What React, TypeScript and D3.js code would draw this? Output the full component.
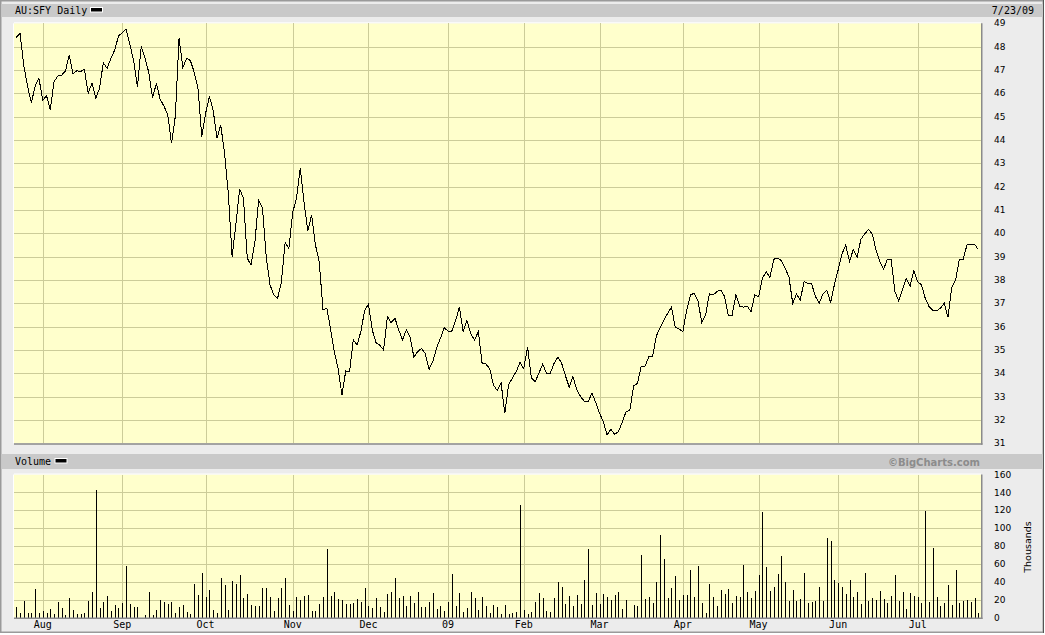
import React from "react";
import * as d3 from "d3";

// ---- DATA ----
const ticker = "AU:SFY Daily";
const chartDate = "7/23/09";

// daily closes, 2008-07-23 .. 2009-07-23 (trading-day order)
const prices: number[] = [
  48.4, 48.57, 47.2, 46.3, 45.6, 46.3, 46.65, 45.7, 45.9, 45.3,
  46.5, 46.74, 46.78, 46.95, 47.64, 46.83, 46.97, 46.93, 47.03, 46.0,
  46.43, 45.79, 46.21, 47.31, 47.07, 47.5, 47.85, 48.45, 48.6, 48.76,
  48.1, 47.4, 46.26, 48.0, 47.5, 46.9, 45.79, 46.43, 45.75, 45.45,
  45.1, 43.86, 45.0, 48.36, 47.1, 47.5, 47.4, 46.9, 46.2, 44.14,
  45.14, 45.86, 45.28, 44.07, 44.64, 43.43, 41.71, 39.0, 40.4, 41.9,
  41.5, 38.93, 38.64, 39.6, 41.4, 41.1, 39.0, 37.8, 37.36, 37.21,
  37.9, 39.6, 39.36, 40.9, 41.5, 42.8, 41.3, 40.1, 40.79, 39.5,
  38.79, 36.71, 36.79, 35.9, 34.9, 34.2, 33.07, 34.1, 34.07, 35.43,
  35.21, 35.8, 36.7, 36.97, 35.86, 35.31, 35.2, 35.0, 36.43, 36.17,
  36.36, 35.85, 35.43, 35.86, 35.54, 34.69, 34.93, 35.07, 34.85, 34.17,
  34.5, 35.1, 35.5, 35.95, 35.81, 35.81, 36.25, 36.83, 35.79, 36.26,
  35.69, 35.43, 35.79, 34.43, 34.4, 34.2, 33.5, 33.26, 33.6, 32.29,
  33.5, 33.8, 34.07, 34.46, 34.2, 35.14, 33.8, 33.64, 34.0, 34.4,
  34.0, 34.0, 34.43, 34.69, 34.43, 33.9, 33.4, 33.86, 33.29, 33.0,
  32.8, 32.79, 33.14, 32.75, 32.29, 31.93, 31.36, 31.6, 31.39, 31.5,
  31.9, 32.36, 32.4, 33.46, 33.57, 34.29, 34.3, 34.7, 34.71, 35.6,
  35.95, 36.29, 36.57, 36.83, 35.97, 35.9, 35.79, 36.7, 37.36, 37.43,
  37.1, 36.17, 36.5, 37.4, 37.36, 37.5, 37.57, 37.3, 36.46, 36.49,
  37.36, 36.88, 36.83, 36.88, 36.64, 37.36, 37.29, 38.07, 38.36, 38.11,
  38.89, 38.93, 38.83, 38.5, 38.14, 37.0, 37.39, 37.14, 37.93, 37.86,
  37.83, 37.29, 37.0, 37.4, 37.57, 37.03, 37.79, 38.43, 39.11, 39.5,
  38.79, 39.31, 38.97, 39.74, 39.97, 40.17, 39.97, 39.29, 38.79, 38.46,
  38.89, 38.86, 37.5, 37.1, 37.6, 38.07, 37.74, 38.4, 37.93, 37.79,
  37.21, 36.86, 36.69, 36.67, 36.79, 37.0, 36.4, 37.69, 38.0, 38.89,
  38.89, 39.5, 39.5, 39.54, 39.3,
];

// daily volume, thousands
const volumes: number[] = [
  12, 4.5, 18.4, 4.5, 4.5, 32, 5.3, 7.5, 4.5, 9.4,
  4, 17.3, 10.5, 3, 21.8, 8.3, 3.4, 4, 4.5, 18.4,
  28.5, 142.4, 10.9, 17.3, 24.4, 7.1, 14.3, 10.9, 16.5, 57.1,
  15, 12, 12, 0, 2.6, 28.5, 2.6, 8.3, 19.5, 17.7,
  15.4, 17.3, 5.3, 12, 13.5, 6.4, 3.8, 37.6, 25.2, 50,
  22.9, 30.8, 8.3, 5.3, 44.7, 36.8, 8.3, 40.9, 37.6, 47,
  22.2, 26.3, 14.3, 13.1, 13.1, 33, 33, 22.9, 7.1, 22.2,
  33.4, 44.7, 14.3, 7.1, 22.9, 19.5, 24, 25.2, 7.1, 7.1,
  15, 22.9, 76.2, 24, 28.5, 20.7, 19.5, 15, 15, 15.8,
  20.3, 16.9, 33, 12.4, 10.5, 21.4, 11.3, 6, 25.9, 28.2,
  44.3, 21.4, 24, 12.8, 23.7, 16.2, 28.2, 11.6, 11.6, 16.9,
  27, 9.4, 12.8, 6.8, 17.3, 48.5, 12.4, 27, 5.6, 10.1,
  28.2, 21.4, 7.9, 22.5, 12.8, 4.9, 13.5, 11.6, 3.8, 13.9,
  3.8, 4.5, 5.6, 126.2, 7.9, 3.4, 5.6, 16.9, 27, 21.4,
  6.8, 5.6, 21.4, 39.4, 33.8, 14.6, 23.7, 12.8, 24.8, 14.6,
  41.7, 76.6, 13.5, 27, 14.6, 25.9, 22.9, 19.2, 24.8, 28.2,
  9, 19.2, 0, 13.5, 12.8, 69.9, 20.3, 22.5, 15.8, 39.4,
  92.4, 65.4, 21.4, 32.7, 46.2, 19.2, 24.8, 24.8, 53, 22.5,
  57.5, 15.8, 5.3, 37.6, 22.5, 12.4, 31.2, 25.9, 32.3, 15.8,
  24.4, 22.5, 59.3, 28.9, 22.2, 30, 47, 118.3, 56, 30,
  33.8, 49.2, 68.4, 39.4, 18.8, 31.2, 18.8, 21, 50.3, 15.8,
  16.9, 18.8, 34.5, 18.8, 89, 85.3, 42.4, 38.3, 33.8, 26.3,
  42.1, 23.3, 28.9, 14.6, 49.6, 18.8, 22.2, 19.9, 30, 21,
  16.5, 24.4, 48.1, 18, 28.9, 9, 27.8, 24.4, 23.3, 15.8,
  119, 17.7, 77.4, 23.3, 13.1, 15.8, 36.8, 14.3, 52.6, 15.8,
  18.8, 19.9, 17.7, 22.2, 4.5,
];

// month labels and the trading-day index of each month's first session
const monthLabels: string[] = ["Aug", "Sep", "Oct", "Nov", "Dec", "09", "Feb", "Mar", "Apr", "May", "Jun", "Jul"];
const monthStartIdx: number[] = [7, 28, 50, 73, 93, 114, 134, 154, 176, 196, 217, 238];

const priceTicks: number[] = d3.range(31, 50);
const volumeTicks: number[] = [0, 20, 40, 60, 80, 100, 120, 140, 160];

// ---- LAYOUT ----
const W = 1045;
const H = 635;
const plotL = 14;
const plotR = 981;
const pTop = 23.3;
const pBot = 443.3;
const vTop = 474.5;
const vBot = 617.5;

const GRID = "#cccc99";
const BG = "#ececec";
const PLOT = "#ffffcc";
const HEAD = "#c9c9c9";
const MONO = "'DejaVu Sans Mono', 'Liberation Mono', monospace";
const SANS = "'DejaVu Sans', Verdana, sans-serif";

export default function App() {
  const N = prices.length;
  const x = d3.scaleLinear().domain([0, N - 1]).range([16.2, 978.3]);
  const yP = d3.scaleLinear().domain([31, 49]).range([pBot, pTop]);
  const yV = d3.scaleLinear().domain([0, 160]).range([vBot, vTop]);

  const line = d3
    .line<number>()
    .x((_, i) => x(i))
    .y((d) => yP(d));

  const crisp = (v: number) => Math.round(v) + 0.5;

  const panel = (top: number, bot: number) => (
    <g>
      <rect x={plotL} y={top} width={plotR - plotL} height={bot - top} fill={PLOT} />
      <line x1={plotL} x2={plotR} y1={top - 0.5} y2={top - 0.5} stroke="#ffffff" />
      <line x1={plotL - 0.5} x2={plotL - 0.5} y1={top} y2={bot} stroke="#ffffff" />
    </g>
  );
  const panelBorder = (top: number, bot: number) => (
    <g>
      <line x1={plotL} x2={plotR + 1.5} y1={bot + 0.75} y2={bot + 0.75} stroke="#8a8a8a" strokeWidth={1.5} />
      <line x1={plotR + 0.75} x2={plotR + 0.75} y1={top} y2={bot + 1.5} stroke="#8a8a8a" strokeWidth={1.5} />
    </g>
  );

  return (
    <svg
      width={W}
      height={H}
      viewBox={`0 0 ${W} ${H}`}
      style={{ position: "absolute", left: 0, top: 0, display: "block" }}
    >
      <rect x={0} y={0} width={W} height={H} fill="#ffffff" />
      <rect x={0.75} y={0.75} width={1042.5} height={631.5} fill={BG} stroke="#9a9a9a" strokeWidth={1.5} />
      <line x1={1043.5} x2={1043.5} y1={0} y2={633} stroke="#555" strokeWidth={1} />

      {/* header bars */}
      <rect x={1.5} y={4} width={1041.5} height={13} fill={HEAD} />
      <rect x={1.5} y={454} width={1041.5} height={15} fill={HEAD} />

      <text x={15} y={13.5} fontFamily={MONO} fontSize={10} fill="#000">{ticker}</text>
      <rect x={90.5} y={7.5} width={12} height={4.5} fill="#000" stroke="#fff" strokeWidth={1} />
      <text x={1034} y={13.5} fontFamily={MONO} fontSize={10} fill="#000" textAnchor="end">{chartDate}</text>

      <text x={15} y={465} fontFamily={MONO} fontSize={10} fill="#000">Volume</text>
      <rect x={55} y={458.5} width={12} height={4.5} fill="#000" stroke="#fff" strokeWidth={1} />
      <text x={980} y={465.5} fontFamily={SANS} fontWeight="bold" fontSize={10} fill="#8c8c8c" textAnchor="end">©BigCharts.com</text>

      {/* price panel */}
      {panel(pTop, pBot)}
      <g shapeRendering="crispEdges">
        {priceTicks.slice(1, -1).map((t) => (
          <line key={"pg" + t} x1={plotL} x2={plotR} y1={crisp(yP(t))} y2={crisp(yP(t))} stroke={GRID} />
        ))}
        {monthStartIdx.map((m, k) => (
          <line key={"pv" + k} x1={crisp(x(m))} x2={crisp(x(m))} y1={pTop} y2={pBot} stroke={GRID} />
        ))}
      </g>
      <path
        d={line(prices) || ""}
        fill="none"
        stroke="#000"
        strokeWidth={1}
        shapeRendering="crispEdges"
      />
      {panelBorder(pTop, pBot)}
      {priceTicks.map((t) => (
        <text key={"pl" + t} x={994} y={yP(t)} dy="0.35em" fontFamily={SANS} fontSize={9} fill="#000">
          {t}
        </text>
      ))}

      {/* volume panel */}
      {panel(vTop, vBot)}
      <g shapeRendering="crispEdges">
        {volumeTicks.slice(1, -1).map((t) => (
          <line key={"vg" + t} x1={plotL} x2={plotR} y1={crisp(yV(t))} y2={crisp(yV(t))} stroke={GRID} />
        ))}
        {monthStartIdx.map((m, k) => (
          <line key={"vv" + k} x1={crisp(x(m))} x2={crisp(x(m))} y1={vTop} y2={vBot} stroke={GRID} />
        ))}
        {volumes.map((v, i) =>
          v > 0 ? (
            <line key={"vb" + i} x1={crisp(x(i))} x2={crisp(x(i))} y1={yV(0)} y2={yV(v)} stroke="#000" strokeWidth={1} />
          ) : null
        )}
      </g>
      {panelBorder(vTop, vBot)}
      {volumeTicks.map((t) => (
        <text key={"vl" + t} x={994} y={yV(t)} dy="0.35em" fontFamily={SANS} fontSize={9} fill="#000">
          {t}
        </text>
      ))}
      <text
        transform={`translate(1031,547) rotate(-90)`}
        textAnchor="middle"
        fontFamily={SANS}
        fontSize={9.5}
        fill="#000"
      >
        Thousands
      </text>

      {/* month labels */}
      {monthStartIdx.map((m, k) => (
        <text key={"ml" + k} x={x(m)} y={628} textAnchor="middle" fontFamily={MONO} fontSize={10} fill="#000">
          {monthLabels[k]}
        </text>
      ))}
    </svg>
  );
}
